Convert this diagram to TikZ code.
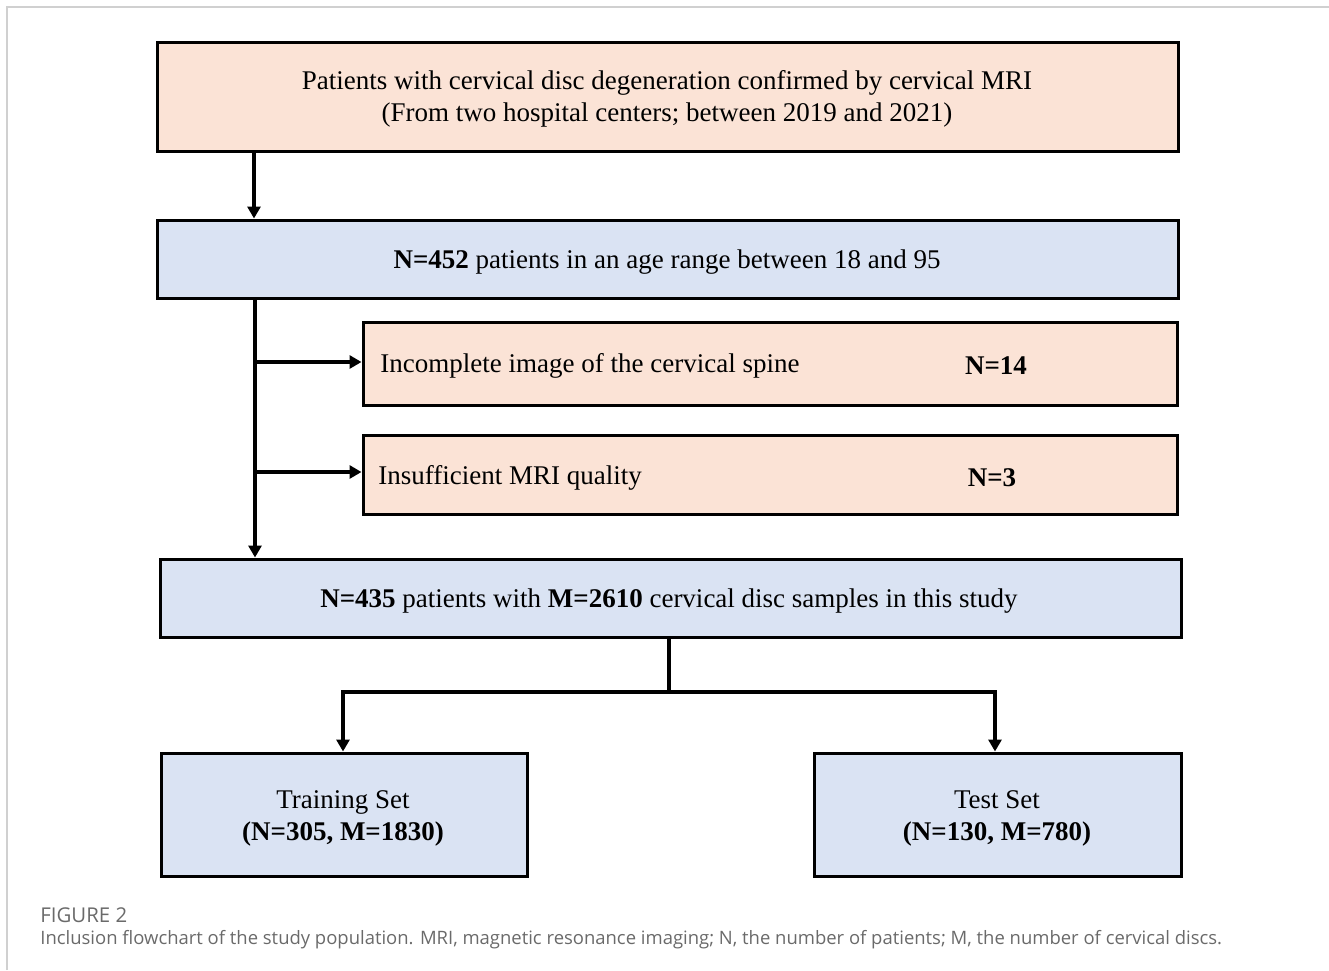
\documentclass[tikz,border=0pt]{standalone}
\usepackage{fontspec}
\setmainfont{Liberation Serif}
\newfontfamily\capfont{Open Sans}
\usetikzlibrary{arrows.meta}
\definecolor{peach}{HTML}{FBE3D6}
\definecolor{lblue}{HTML}{DAE3F3}
\definecolor{capgray}{HTML}{6A6A6A}
\definecolor{framegray}{HTML}{D0D0D0}
\tikzset{
  box/.style={draw=black, line width=1.5pt, rectangle, inner sep=0pt},
  pbox/.style={box, fill=peach},
  bbox/.style={box, fill=lblue},
  txt/.style={font=\fontsize{13.5}{16}\selectfont, align=center, inner sep=0pt},
  arr/.style={line width=1.6pt, -{Triangle[length=6pt,width=6.5pt]}},
  ln/.style={line width=1.6pt},
  captxt/.style={anchor=west, inner sep=0pt, text=capgray},
}
\begin{document}
\begin{tikzpicture}[x=0.5pt,y=-0.5pt]
\useasboundingbox (0,0) rectangle (1329,970);
\draw[framegray, line width=1pt] (7,970) -- (7,7) -- (1329,7);
% boxes
\node[pbox, minimum width=510.5pt, minimum height=54.5pt] (top) at (667.5,96.5) {};
\node[txt] (toptxt) at (667,99) {Patients with cervical disc degeneration confirmed by cervical MRI\\(From two hospital centers; between 2019 and 2021)};
\node[bbox, minimum width=510.5pt, minimum height=39pt] (n452) at (667.5,259) {};
\node[txt] (n452txt) at (667,262) {\textbf{N=452} patients in an age range between 18 and 95};
\node[pbox, minimum width=407pt, minimum height=41.5pt] (ex1) at (770,363.5) {};
\node[txt, anchor=west] (ex1txt) at (380,366) {Incomplete image of the cervical spine};
\node[txt] (ex1n) at (996,366) {\textbf{N=14}};
\node[pbox, minimum width=407pt, minimum height=39.5pt] (ex2) at (770,474.5) {};
\node[txt, anchor=west] (ex2txt) at (378,478) {Insufficient MRI quality};
\node[txt] (ex2n) at (992,478) {\textbf{N=3}};
\node[bbox, minimum width=510.5pt, minimum height=39pt] (n435) at (670.5,598) {};
\node[txt] (n435txt) at (669,601) {\textbf{N=435} patients with \textbf{M=2610} cervical disc samples in this study};
\node[bbox, minimum width=183pt, minimum height=61.5pt] (train) at (344,814.5) {};
\node[txt] (traintxt) at (343,818) {Training Set\\\textbf{(N=305, M=1830)}};
\node[bbox, minimum width=183.5pt, minimum height=61.5pt] (test) at (997.5,814.5) {};
\node[txt] (testtxt) at (997,818) {Test Set\\\textbf{(N=130, M=780)}};
% connectors
\coordinate (c1) at (254,0);
\coordinate (c2) at (255,0);
\coordinate (b1) at (255,362);
\coordinate (b2) at (255,472);
\coordinate (split) at (669,692);
\coordinate (tl) at (343,692);
\coordinate (tr) at (995,692);
\draw[arr] (top.south -| c1) -- (n452.north -| c1);
\draw[arr] (n452.south -| c2) -- (n435.north -| c2);
\draw[arr] (b1) -- (ex1.west |- b1);
\draw[arr] (b2) -- (ex2.west |- b2);
\draw[ln] (n435.south -| split) -- (split);
\draw[ln] (tl) -- (tr);
\draw[arr] ([yshift=0.8pt]tl) -- (train.north -| tl);
\draw[arr] ([yshift=0.8pt]tr) -- (test.north -| tr);
% caption
\node[captxt, font=\capfont\fontsize{10.2}{12}\selectfont] (fig) at (40,915) {FIGURE 2};
\node[captxt, font=\capfont\fontsize{9.23}{11}\selectfont] (cap) at (40,940) {Inclusion flowchart of the study population. MRI, magnetic resonance imaging; N, the number of patients; M, the number of cervical discs.};
\end{tikzpicture}
\end{document}
